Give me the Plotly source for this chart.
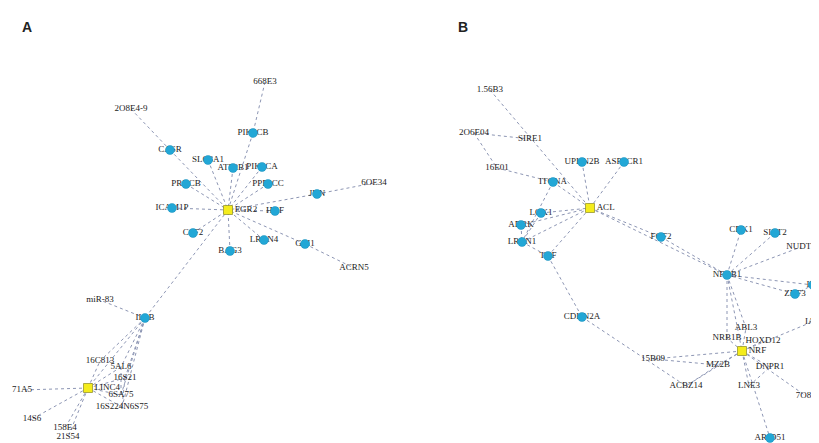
import plotly.graph_objects as go

# ---------------- Panel A network ----------------
a_ids = ["A_hub", "A_668E3", "A_208E4", "A_PIK3CB", "A_CASR", "A_SLC8A1", "A_ATP2B1", "A_PIK3CA",
         "A_PRKCB", "A_PPP3CC", "A_JUN", "A_60E34", "A_ICAM1P", "A_HGF", "A_CSF2", "A_LRRN4",
         "A_GLI1", "A_BAG3", "A_ACRN5", "A_IL1B", "A_miR83", "A_hub2", "A_16C813", "A_5AL6",
         "A_16S21", "A_6SA75", "A_16S22", "A_71A5", "A_14S6", "A_158E4", "A_21S54"]
a_labels = ["EGR2", "668E3", "2O8E4-9", "PIK3CB", "CASR", "SLC8A1", "ATP2B1", "PIK3CA",
            "PRKCB", "PPP3CC", "JUN", "6OE34", "ICAM1P", "HGF", "CSF2", "LRRN4",
            "GLI1", "BAG3", "ACRN5", "IL1B", "miR-83", "LINC4", "16C813", "5AL6",
            "16S21", "6SA75", "16S224N6S75", "71A5", "14S6", "158E4", "21S54"]
a_x = [228, 265, 131, 253, 170, 208, 233, 262, 186, 268, 317, 374, 172, 275, 193, 264,
       305, 230, 354, 145, 100, 88, 100, 121, 125, 121, 122, 22, 32, 65, 68]
a_y = [210, 82, 109, 133, 150, 160, 168, 167, 184, 184, 194, 183, 208, 211, 233, 240,
       244, 251, 268, 318, 300, 388, 361, 367, 378, 395, 407, 390, 419, 428, 437]
a_kind = ["hub", "label", "label", "gene", "gene", "gene", "gene", "gene", "gene", "gene",
          "gene", "label", "gene", "gene", "gene", "gene", "gene", "gene", "label", "gene",
          "label", "hub", "label", "label", "label", "label", "label", "label", "label",
          "label", "label"]
a_edges = [("A_668E3", "A_PIK3CB"), ("A_PIK3CB", "A_hub"), ("A_208E4", "A_CASR"), ("A_CASR", "A_hub"),
           ("A_SLC8A1", "A_hub"), ("A_ATP2B1", "A_hub"), ("A_PIK3CA", "A_hub"), ("A_PRKCB", "A_hub"),
           ("A_PPP3CC", "A_hub"), ("A_JUN", "A_hub"), ("A_JUN", "A_60E34"), ("A_ICAM1P", "A_hub"),
           ("A_HGF", "A_hub"), ("A_CSF2", "A_hub"), ("A_LRRN4", "A_hub"), ("A_GLI1", "A_hub"),
           ("A_GLI1", "A_ACRN5"), ("A_BAG3", "A_hub"), ("A_hub", "A_IL1B"), ("A_IL1B", "A_miR83"),
           ("A_IL1B", "A_16C813"), ("A_IL1B", "A_5AL6"), ("A_IL1B", "A_16S21"), ("A_IL1B", "A_6SA75"),
           ("A_IL1B", "A_hub2"), ("A_IL1B", "A_16S22"), ("A_hub2", "A_71A5"), ("A_hub2", "A_14S6"),
           ("A_hub2", "A_158E4"), ("A_hub2", "A_21S54"), ("A_hub2", "A_16C813"), ("A_hub2", "A_5AL6"),
           ("A_hub2", "A_16S21"), ("A_hub2", "A_6SA75"), ("A_hub2", "A_16S22"), ("A_5AL6", "A_6SA75"),
           ("A_16S21", "A_16S22")]

# ---------------- Panel B network ----------------
b_ids = ["B_hub", "B_156B3", "B_206E04", "B_SIRE1", "B_16E01", "B_UPKN2B", "B_ASPSCR1", "B_ITGNA",
         "B_LOX1", "B_ADRK", "B_LRRN1", "B_TNF", "B_FGF2", "B_NFKB1", "B_CDK1", "B_SIRT2", "B_NUDT3",
         "B_IL6", "B_ZNF3", "B_CDKN2A", "B_hub2", "B_ABL3", "B_NRB1B", "B_HOXD12", "B_15B09",
         "B_MZ2B", "B_DNPR1", "B_ACBZ14", "B_LNE3", "B_7O8S", "B_ARID51", "B_IA"]
b_labels = ["ACL", "1.56B3", "2O6E04", "SIRE1", "16E01", "UPKN2B", "ASPSCR1", "ITGNA",
            "LOX1", "ADRK", "LRRN1", "TNF", "FGF2", "NFKB1", "CDK1", "SIRT2", "NUDT3",
            "IL6", "ZNF3", "CDKN2A", "NRF", "ABL3", "NRB1B", "HOXD12", "15B09",
            "MZ2B", "DNPR1", "ACBZ14", "LNE3", "7O8S", "ARID51", "IA3"]
b_x = [590, 490, 474, 530, 497, 582, 624, 553, 541, 521, 522, 548, 661, 727, 741, 775, 801,
       813, 795, 582, 742, 746, 727, 763, 653, 718, 770, 686, 749, 806, 770, 812]
b_y = [208, 90, 133, 139, 168, 162, 162, 182, 213, 225, 242, 256, 237, 275, 230, 233, 247,
       285, 294, 317, 351, 328, 338, 341, 359, 365, 367, 386, 386, 396, 438, 322]
b_kind = ["hub", "label", "label", "label", "label", "gene", "gene", "gene", "gene", "gene",
          "gene", "gene", "gene", "gene", "gene", "gene", "label", "gene", "gene", "gene", "hub",
          "label", "label", "label", "label", "label", "label", "label", "label", "label", "gene",
          "label"]
b_edges = [("B_156B3", "B_hub"), ("B_206E04", "B_SIRE1"), ("B_206E04", "B_16E01"), ("B_16E01", "B_ITGNA"),
           ("B_UPKN2B", "B_hub"), ("B_ASPSCR1", "B_hub"), ("B_ITGNA", "B_hub"), ("B_ITGNA", "B_LRRN1"),
           ("B_LOX1", "B_hub"), ("B_ADRK", "B_hub"), ("B_ADRK", "B_LRRN1"), ("B_LRRN1", "B_hub"),
           ("B_TNF", "B_hub"), ("B_LRRN1", "B_TNF"), ("B_LOX1", "B_LRRN1"), ("B_hub", "B_FGF2"),
           ("B_FGF2", "B_NFKB1"), ("B_hub", "B_NFKB1"), ("B_NFKB1", "B_CDK1"), ("B_NFKB1", "B_SIRT2"),
           ("B_NFKB1", "B_NUDT3"), ("B_NFKB1", "B_IL6"), ("B_NFKB1", "B_ZNF3"), ("B_NFKB1", "B_hub2"),
           ("B_NFKB1", "B_NRB1B"), ("B_NFKB1", "B_ABL3"), ("B_TNF", "B_CDKN2A"), ("B_CDKN2A", "B_ACBZ14"),
           ("B_hub2", "B_ABL3"), ("B_hub2", "B_NRB1B"), ("B_hub2", "B_HOXD12"), ("B_hub2", "B_15B09"),
           ("B_hub2", "B_MZ2B"), ("B_hub2", "B_DNPR1"), ("B_hub2", "B_ACBZ14"), ("B_hub2", "B_LNE3"),
           ("B_hub2", "B_7O8S"), ("B_hub2", "B_ARID51"), ("B_hub2", "B_IA"), ("B_15B09", "B_MZ2B"),
           ("B_ZNF3", "B_IL6"), ("B_ACBZ14", "B_MZ2B"), ("B_LNE3", "B_DNPR1")]

ids = a_ids + b_ids
labels = a_labels + b_labels
xs = a_x + b_x
ys = a_y + b_y
kinds = a_kind + b_kind
pos = {i: (x, y) for i, x, y in zip(ids, xs, ys)}

ex, ey = [], []
for s, t in a_edges + b_edges:
    ex += [pos[s][0], pos[t][0], None]
    ey += [pos[s][1], pos[t][1], None]

fig = go.Figure()
fig.add_trace(go.Scatter(x=ex, y=ey, mode="lines",
                         line=dict(color="#8d96b4", width=1, dash="dot"),
                         hoverinfo="skip", showlegend=False))
font = dict(family="Liberation Serif", size=9, color="#222222")
# labels of gene / plain nodes, centred on the node (drawn under nodes)
nx_ = [x for x, k in zip(xs, kinds) if k != "hub"]
ny_ = [y for y, k in zip(ys, kinds) if k != "hub"]
nt_ = [t for t, k in zip(labels, kinds) if k != "hub"]
fig.add_trace(go.Scatter(x=nx_, y=ny_, mode="text", text=nt_, cliponaxis=False,
                         textfont=font, textposition="middle center",
                         showlegend=False, hoverinfo="skip"))
gx = [x for x, k in zip(xs, kinds) if k == "gene"]
gy = [y for y, k in zip(ys, kinds) if k == "gene"]
fig.add_trace(go.Scatter(x=gx, y=gy, mode="markers", cliponaxis=False,
                         marker=dict(color="#22a7d6", size=9, symbol="circle",
                                     line=dict(color="#1b8fbb", width=0.5)),
                         showlegend=False))
hx = [x for x, k in zip(xs, kinds) if k == "hub"]
hy = [y for y, k in zip(ys, kinds) if k == "hub"]
ht = [t for t, k in zip(labels, kinds) if k == "hub"]
fig.add_trace(go.Scatter(x=hx, y=hy, mode="markers+text", text=ht, textposition="middle right",
                         textfont=font,
                         marker=dict(color="#f4ec1c", size=9, symbol="square",
                                     line=dict(color="#8a8a20", width=0.7)),
                         showlegend=False))

fig.add_annotation(x=27, y=27, text="<b>A</b>", showarrow=False,
                   font=dict(family="Liberation Sans", size=14, color="#222"))
fig.add_annotation(x=463, y=27, text="<b>B</b>", showarrow=False,
                   font=dict(family="Liberation Sans", size=14, color="#222"))

# the page body has an 8px margin; shift the coordinate frame so data units == page pixels
fig.update_layout(width=811, height=435, margin=dict(l=0, r=0, t=0, b=0),
                  plot_bgcolor="white", paper_bgcolor="white",
                  xaxis=dict(range=[8, 819], visible=False),
                  yaxis=dict(range=[443, 8], visible=False))
fig.write_html("out.html")
